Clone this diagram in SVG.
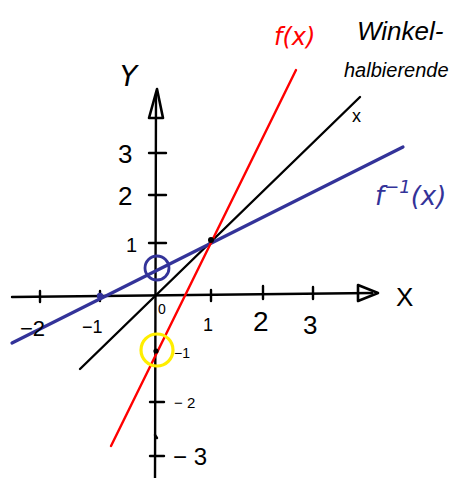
<svg xmlns="http://www.w3.org/2000/svg" width="459" height="478" viewBox="0 0 459 478">
<style>
.ax{stroke:#000;stroke-width:2.4;fill:none;stroke-linecap:round}
.t{font-family:"Liberation Sans",Arial,sans-serif;fill:#000}
.hw{font-family:"DejaVu Sans",sans-serif;font-style:italic}
.hl{font-family:"Liberation Sans",Arial,sans-serif;font-style:italic}
</style>
<rect width="459" height="478" fill="#fff"/>
<g id="axes">
  <line class="ax" x1="12" y1="297" x2="372" y2="293"/>
  <line class="ax" x1="155" y1="478" x2="156" y2="95"/>
  <path d="M358 285 L378 293 L358 301 Z" fill="none" stroke="#000" stroke-width="2.6" stroke-linejoin="round"/>
  <path d="M149 118 L157 89 L163 118 Z" fill="none" stroke="#000" stroke-width="2.6" stroke-linejoin="round"/>
  <g class="ax">
    <line x1="40" y1="291" x2="40" y2="302"/>
    <line x1="100" y1="291" x2="100" y2="301"/>
    <line x1="211" y1="290" x2="211" y2="301"/>
    <line x1="263" y1="286" x2="263" y2="299"/>
    <line x1="313" y1="287" x2="313" y2="299"/>
    <line x1="149" y1="153" x2="166" y2="153"/>
    <line x1="149" y1="195" x2="166" y2="195"/>
    <line x1="149" y1="243" x2="166" y2="243"/>
    <line x1="150" y1="402" x2="164" y2="402"/>
    <line x1="150" y1="456" x2="164" y2="456"/>
    <line x1="155" y1="435" x2="157" y2="438"/>
  </g>
</g>
<g id="lines">
  <line x1="80" y1="369" x2="360" y2="97" stroke="#000" stroke-width="2.4" stroke-linecap="round"/>
  <line x1="12" y1="343" x2="403" y2="147" stroke="#333399" stroke-width="3.2" stroke-linecap="round"/>
  <line x1="111" y1="446" x2="296" y2="70" stroke="#ff0000" stroke-width="2.4" stroke-linecap="round"/>
</g>
<g id="markers">
  <circle cx="157" cy="268" r="12" fill="none" stroke="#333399" stroke-width="2.8"/>
  <circle cx="157" cy="350" r="16" fill="none" stroke="#ffee00" stroke-width="3.2"/>
  <circle cx="211" cy="240" r="3" fill="#000"/>
  <circle cx="156" cy="351" r="2.6" fill="#000"/>
  <circle cx="100" cy="296" r="3.2" fill="#333399"/>
</g>
<g id="labels" class="t">
  <text x="120" y="86" font-size="28" class="hw">Y</text>
  <text x="396" y="306" font-size="26">X</text>
  <text x="352" y="122" font-size="18">x</text>
  <text x="118" y="163" font-size="26">3</text>
  <text x="118" y="205" font-size="26">2</text>
  <text x="126" y="252" font-size="20">1</text>
  <text x="20" y="336" font-size="22">−2</text>
  <text x="82" y="333" font-size="18">−1</text>
  <text x="158" y="314" font-size="14">0</text>
  <text x="203" y="331" font-size="18">1</text>
  <text x="253" y="331" font-size="28">2</text>
  <text x="303" y="334" font-size="26">3</text>
  <text x="174" y="358" font-size="14">−1</text>
  <text x="174" y="408" font-size="15">− 2</text>
  <text x="173" y="465" font-size="24">− 3</text>
  <text x="274" y="45" font-size="24" fill="#ff0000" class="hw">f(x)</text>
  <text x="357" y="40" font-size="26" class="hl">Winkel-</text>
  <text x="344" y="77" font-size="20" class="hl">halbierende</text>
  <text x="375" y="205" font-size="26" fill="#333399" class="hw">f<tspan font-size="18" dy="-12">−1</tspan><tspan dy="12">(x)</tspan></text>
</g>
</svg>
